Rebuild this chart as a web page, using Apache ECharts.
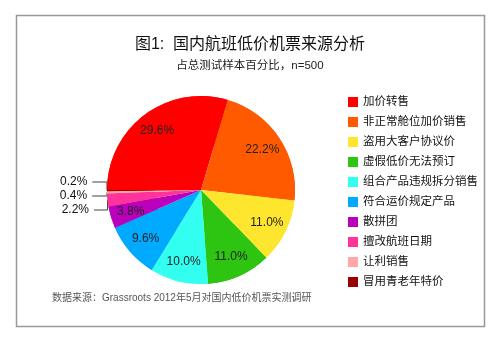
<!DOCTYPE html>
<html>
<head>
<meta charset="utf-8">
<script src="https://cdn.jsdelivr.net/npm/echarts@6/dist/echarts.min.js"></script>
<style>html,body{margin:0;padding:0;background:#fff;}#c{width:500px;height:348px;}</style>
</head>
<body>
<div id="c"></div>
<script>
const categories = ['加价转售','非正常舱位加价销售','盗用大客户协议价','虚假低价无法预订','组合产品违规拆分销售','符合运价规定产品','散拼团','擅改航班日期','让利销售','冒用青老年特价'];
const values = [29.6, 22.2, 11.0, 11.0, 10.0, 9.6, 3.8, 2.2, 0.4, 0.2];
const colors = ['#ff0000','#ff5a00','#ffe62e','#2ec512','#33fff0','#00aaff','#bb00bb','#ff3399','#ffa8a8','#990000'];
const titleText = '图1:  国内航班低价机票来源分析';
const subText = '占总测试样本百分比，n=500';
const sourceText = '数据来源：Grassroots 2012年5月对国内低价机票实测调研';

const FONT = '"Liberation Sans", "Noto Sans CJK SC", sans-serif';
const CENTER = [201, 190];
const R = 94;
const SMALL = 3;

const chart = echarts.init(document.getElementById('c'), null, {renderer: 'canvas'});

const outerData = categories.map((n, i) => ({
  name: n, value: values[i], itemStyle: {color: colors[i]},
  label: {show: values[i] < SMALL},
  labelLine: {show: values[i] < SMALL}
}));
const innerData = categories.map((n, i) => ({
  name: n, value: values[i], itemStyle: {color: colors[i]},
  label: {show: values[i] >= SMALL}
}));

chart.setOption({
  backgroundColor: '#fff',
  animation: false,
  color: colors,
  title: [
    {text: titleText, left: 'center', top: 32, textStyle: {fontFamily: FONT, fontSize: 16, fontWeight: 'normal', color: '#111'}},
    {text: subText, left: 'center', top: 55, textStyle: {fontFamily: FONT, fontSize: 11.5, fontWeight: 'normal', color: '#222'}}
  ],
  legend: {
    orient: 'vertical', left: 343, top: 91,
    data: categories,
    icon: 'rect', itemWidth: 10, itemHeight: 10, itemGap: 8,
    textStyle: {fontFamily: FONT, fontSize: 11.5, color: '#111', lineHeight: 12},
    selectedMode: false
  },
  graphic: [
    {type: 'rect', shape: {x: 16.5, y: 15.5, width: 468, height: 311}, style: {fill: 'none', stroke: '#999', lineWidth: 1.5}, z: 0},
    {type: 'text', left: 52, top: 293, style: {text: sourceText, fontFamily: FONT, fontSize: 10, fill: '#555'}}
  ],
  series: [
    {
      type: 'pie', left: 0, top: 0, width: 500, height: 217,
      center: CENTER, radius: R, startAngle: 180, clockwise: true,
      silent: true, data: outerData,
      label: {position: 'outside', formatter: p => p.value.toFixed(1) + '%', fontFamily: FONT, fontSize: 12, color: '#111'},
      labelLine: {length: 5, length2: 15, lineStyle: {color: '#444', width: 1}}
    },
    {
      type: 'pie', left: 0, top: 0, width: 500, height: 348,
      center: CENTER, radius: [R / 2, R], startAngle: 180, clockwise: true,
      silent: true, data: innerData,
      label: {position: 'inside', formatter: p => p.value.toFixed(1) + '%', fontFamily: FONT, fontSize: 12, color: '#222'},
      labelLine: {show: false}
    }
  ]
});
</script>
</body>
</html>
